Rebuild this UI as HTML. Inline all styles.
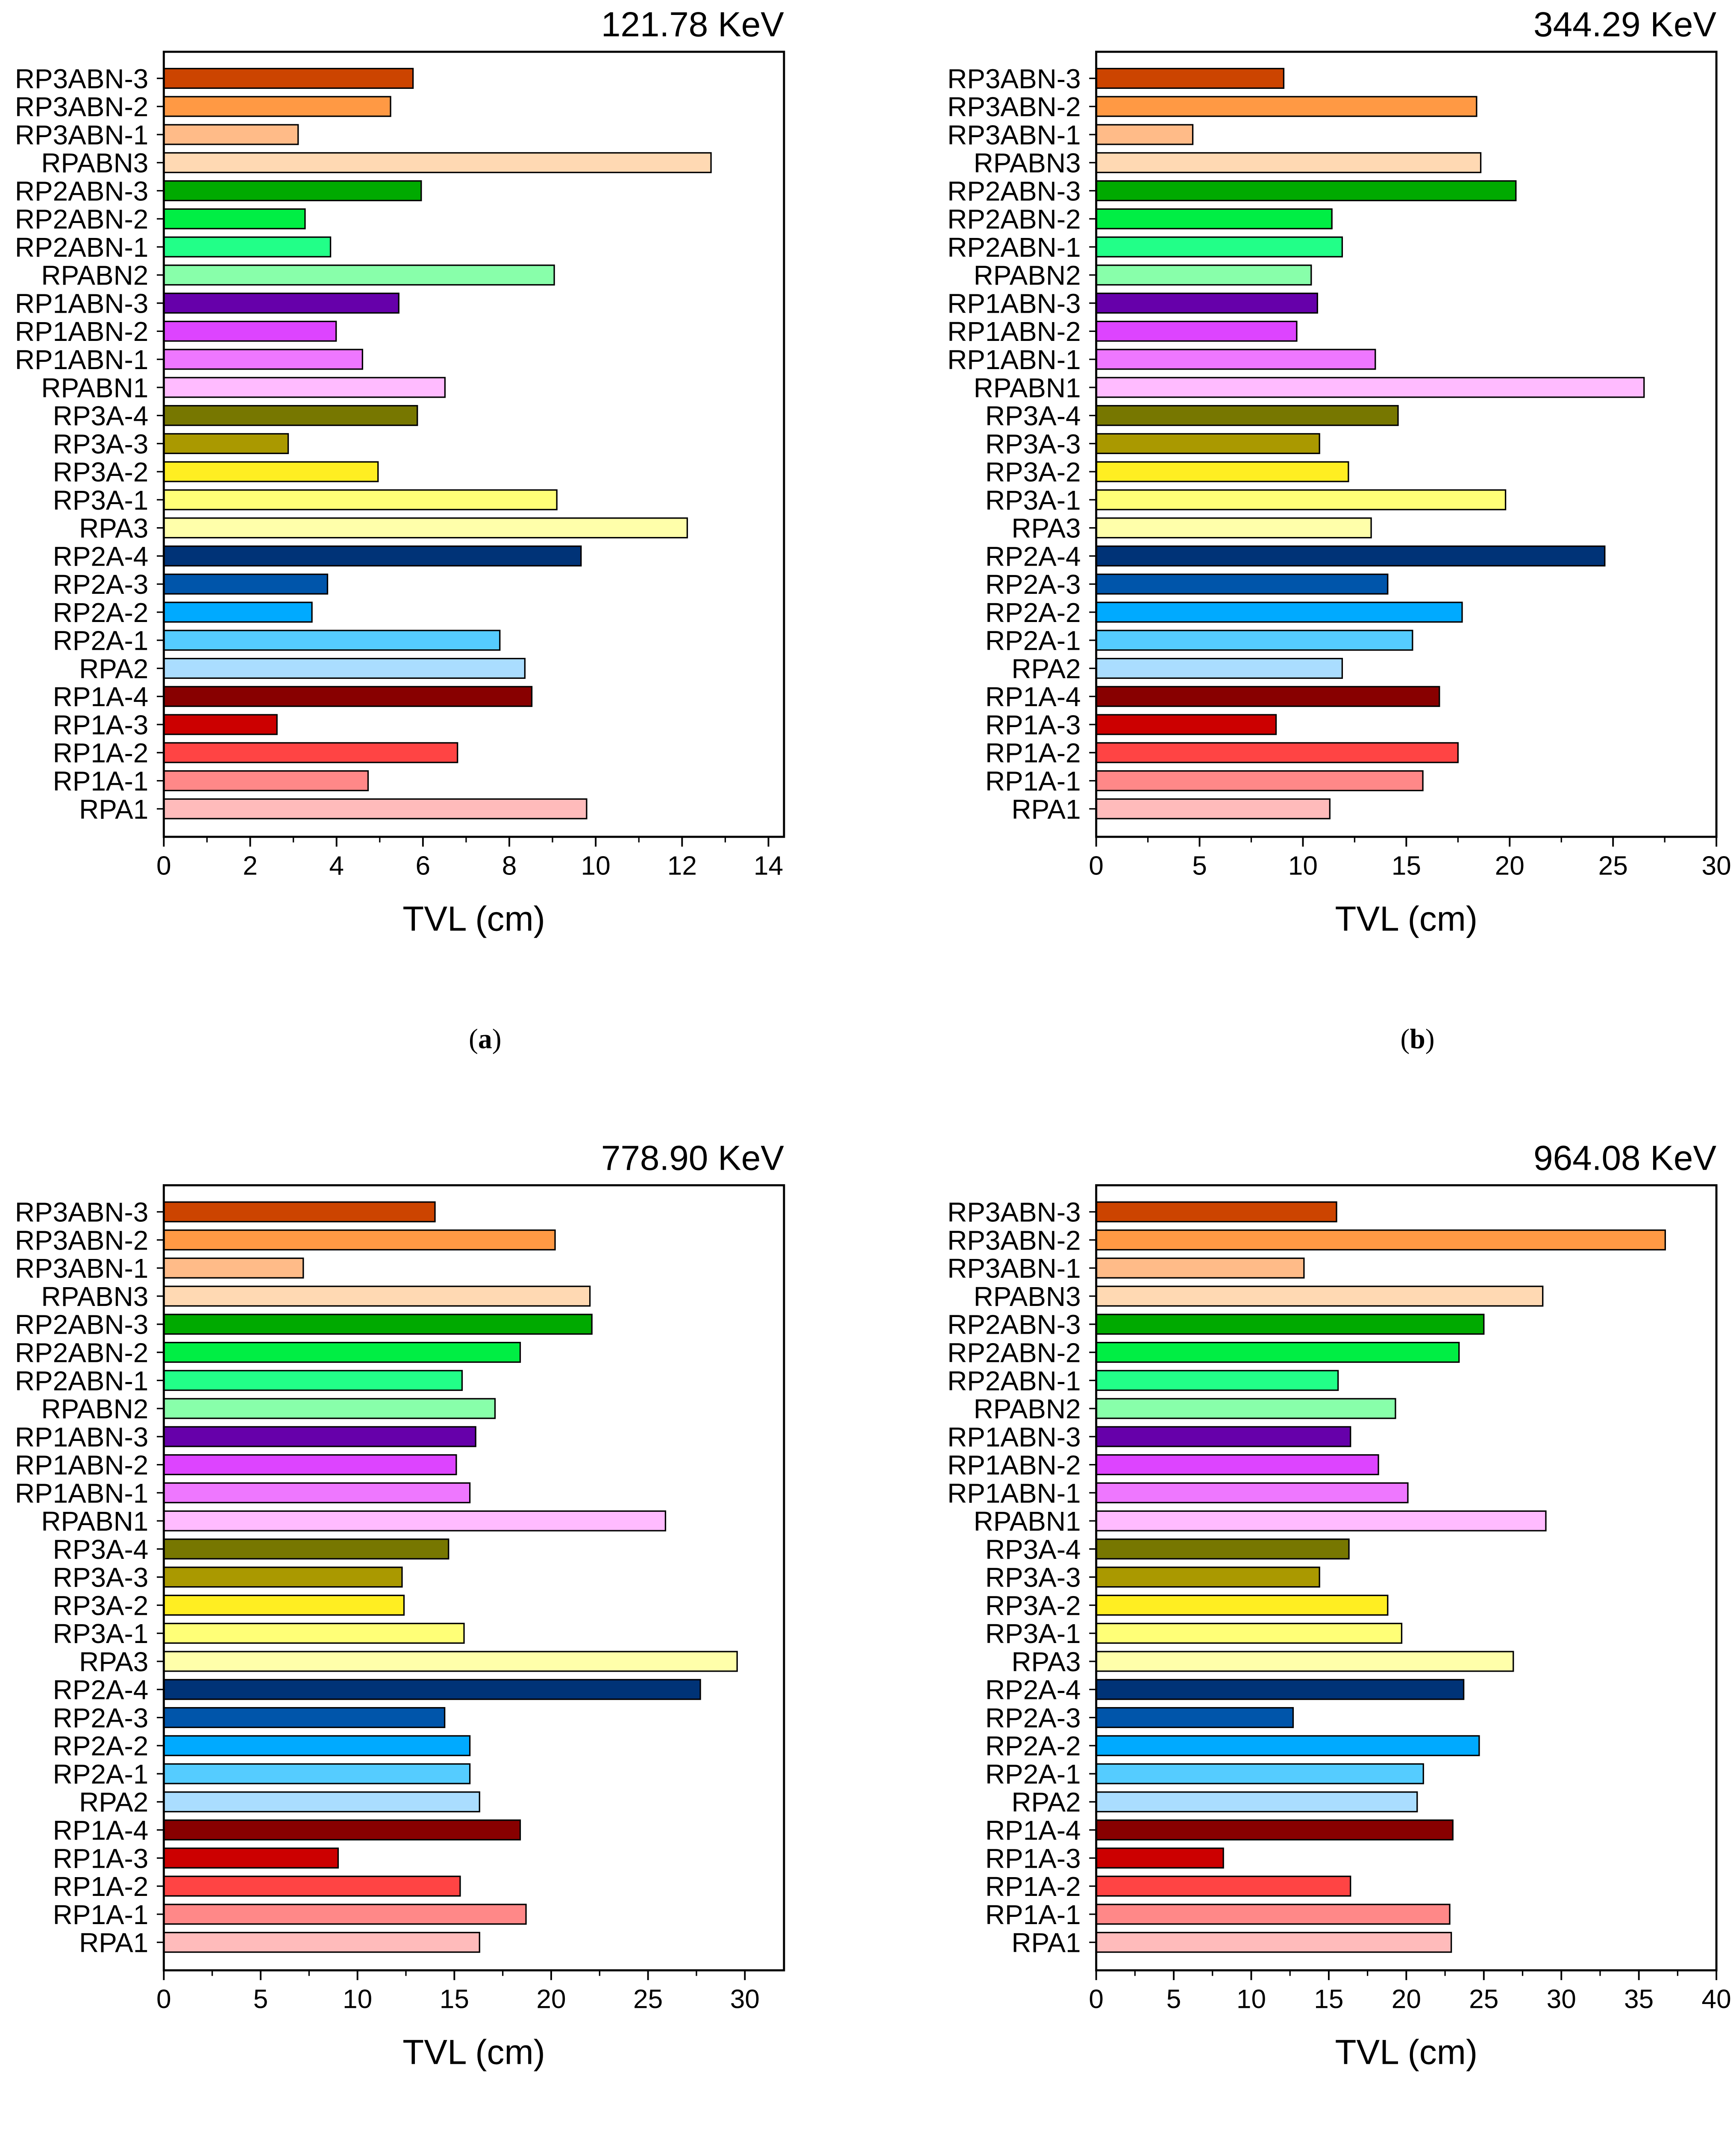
<!DOCTYPE html>
<html><head><meta charset="utf-8"><style>html,body{margin:0;padding:0;background:#fff;width:4063px;height:5133px;overflow:hidden;position:relative}svg{display:block;position:absolute;left:0;top:0}</style></head>
<body>
<svg id="fig" width="4063" height="5133" viewBox="0 0 1240 1567" preserveAspectRatio="none" xmlns="http://www.w3.org/2000/svg" font-family="Liberation Sans, sans-serif"></svg>
<script>
const categories = ["RP3ABN-3","RP3ABN-2","RP3ABN-1","RPABN3","RP2ABN-3","RP2ABN-2","RP2ABN-1","RPABN2","RP1ABN-3","RP1ABN-2","RP1ABN-1","RPABN1","RP3A-4","RP3A-3","RP3A-2","RP3A-1","RPA3","RP2A-4","RP2A-3","RP2A-2","RP2A-1","RPA2","RP1A-4","RP1A-3","RP1A-2","RP1A-1","RPA1"];
const barColors = ["#cc4400","#ff9944","#ffbb88","#ffd9b3","#00aa00","#00ee44","#22ff88","#88ffaa","#6600aa","#dd44ff","#ee77ff","#ffbbff","#777700","#aa9900","#ffee22","#ffff77","#ffffaa","#003377","#0055aa","#00aaff","#55ccff","#aaddff","#880000","#cc0000","#ff4444","#ff8888","#ffbbbb"];
const valuesA = [5.77,5.25,3.11,12.67,5.96,3.27,3.86,9.04,5.44,3.99,4.6,6.51,5.87,2.88,4.96,9.1,12.12,9.66,3.79,3.43,7.78,8.36,8.52,2.62,6.8,4.73,9.79];
const valuesB = [9.07,18.4,4.67,18.6,20.3,11.4,11.9,10.4,10.7,9.7,13.5,26.5,14.6,10.8,12.2,19.8,13.3,24.6,14.1,17.7,15.3,11.9,16.6,8.7,17.5,15.8,11.3];
const valuesC = [14.0,20.2,7.2,22.0,22.1,18.4,15.4,17.1,16.1,15.1,15.8,25.9,14.7,12.3,12.4,15.5,29.6,27.7,14.5,15.8,15.8,16.3,18.4,9.0,15.3,18.7,16.3];
const valuesD = [15.5,36.7,13.4,28.8,25.0,23.4,15.6,19.3,16.4,18.2,20.1,29.0,16.3,14.4,18.8,19.7,26.9,23.7,12.7,24.7,21.1,20.7,23.0,8.2,16.4,22.8,22.9];
const titles = ["121.78 KeV","344.29 KeV","778.90 KeV","964.08 KeV"];
const subLetters = ["a","b","c","d"];
const ticksA = [0,2,4,6,8,10,12,14];
const ticksB = [0,5,10,15,20,25,30];
const ticksC = [0,5,10,15,20,25,30];
const ticksD = [0,5,10,15,20,25,30,35,40];

const NS="http://www.w3.org/2000/svg";
const svg=document.getElementById('fig');
function mk(tag,attrs,parent){const e=document.createElementNS(NS,tag);for(const k in attrs)e.setAttribute(k,attrs[k]);(parent||svg).appendChild(e);return e;}

const panels=[
 {vals:valuesA,ticks:ticksA,max:14.36,minor:1,ox:0,oy:0,key:'a'},
 {vals:valuesB,ticks:ticksB,max:30,minor:2.5,ox:666,oy:0,key:'b'},
 {vals:valuesC,ticks:ticksC,max:32.02,minor:2.5,ox:0,oy:810,key:'c'},
 {vals:valuesD,ticks:ticksD,max:40,minor:2.5,ox:666,oy:810,key:'d'}
];
panels.forEach((p,pi)=>{
  const g=mk('g',{});
  
  
  const L=117+p.ox,R=560+p.ox,T=37+p.oy,B=598+p.oy;
  const x=v=>L+(v/p.max)*(R-L);
  const y=i=>56+p.oy+i*(522/26);
  const t=mk('text',{x:R,y:26+p.oy,'font-size':25,'text-anchor':'end',fill:'#000'},g);t.textContent=titles[pi];
  
  categories.forEach((c,i)=>{
    const r=mk('rect',{x:L,y:y(i)-7,width:x(p.vals[i])-L,height:14,fill:barColors[i],stroke:'#000','stroke-width':1},g);
    
    
    const lb=mk('text',{x:L-11,y:y(i)+7,'font-size':19.5,'text-anchor':'end',fill:'#000'},g);lb.textContent=c;
    
    
    mk('line',{x1:L-5,x2:L,y1:y(i),y2:y(i),stroke:'#000','stroke-width':1},g);
  });
  const fr=mk('rect',{x:L,y:T,width:R-L,height:B-T,fill:'none',stroke:'#000','stroke-width':1.5},g);
  
  for(let v=0;v<=p.max+1e-6;v+=p.minor){mk('line',{x1:x(v),x2:x(v),y1:B,y2:B+4,stroke:'#000','stroke-width':1},g);}
  p.ticks.forEach(v=>{
    mk('line',{x1:x(v),x2:x(v),y1:B,y2:B+7,stroke:'#000','stroke-width':1.2},g);
    const tl=mk('text',{x:x(v),y:B+27,'font-size':19,'text-anchor':'middle',fill:'#000'},g);tl.textContent=v;
    
  });
  const at=mk('text',{x:(L+R)/2,y:665+p.oy,'font-size':25,'text-anchor':'middle',fill:'#000'},g);at.textContent='TVL (cm)';
  
  const sl=mk('text',{x:(L+R)/2+8,y:749+p.oy,'font-size':20,'text-anchor':'middle',fill:'#000','font-family':'Liberation Serif, serif'},g);
  sl.appendChild(document.createTextNode('('));
  const b=mk('tspan',{'font-weight':'bold'},sl);b.textContent=subLetters[pi];
  sl.appendChild(document.createTextNode(')'));
  
});
</script>
</body></html>
